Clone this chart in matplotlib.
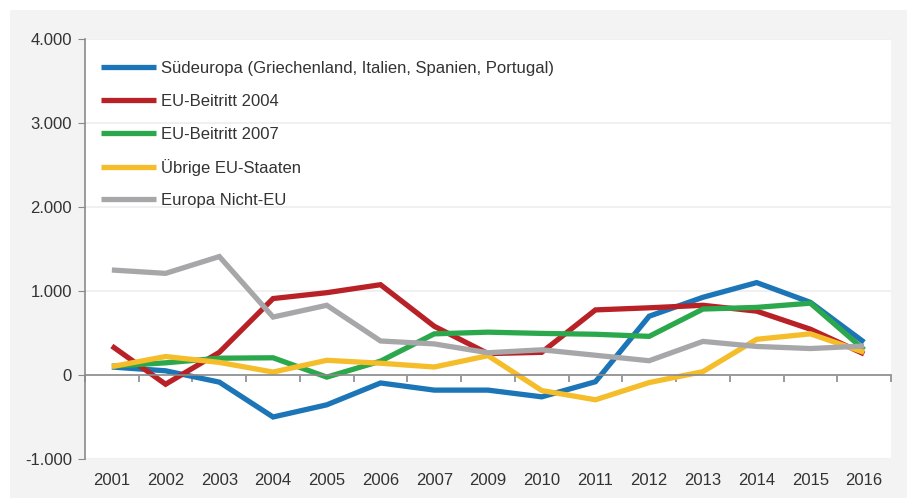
import matplotlib
matplotlib.use("Agg")
import matplotlib.pyplot as plt
from matplotlib.patches import Rectangle
from matplotlib.legend import Legend
from matplotlib.ticker import FuncFormatter, FixedLocator
import numpy as np

years = ["2001", "2002", "2003", "2004", "2005", "2006", "2007", "2009",
         "2010", "2011", "2012", "2013", "2014", "2015", "2016"]

suedeuropa = [95, 50, -85, -500, -355, -95, -180, -180, -260, -80, 700, 925, 1100, 865, 390]
eu2004 = [345, -110, 270, 910, 980, 1075, 580, 255, 270, 775, 800, 830, 760, 545, 250]
eu2007 = [105, 145, 200, 205, -25, 165, 490, 510, 495, 485, 460, 785, 805, 855, 300]
uebrige = [100, 220, 150, 35, 175, 140, 95, 230, -185, -295, -90, 40, 425, 490, 270]
nicht_eu = [1250, 1210, 1410, 690, 830, 405, 370, 265, 300, 235, 170, 400, 340, 315, 345]

labels = ["Südeuropa (Griechenland, Italien, Spanien, Portugal)",
          "EU-Beitritt 2004", "EU-Beitritt 2007", "Übrige EU-Staaten",
          "Europa Nicht-EU"]
colors = ["#1b75b6", "#b82227", "#2ba84c", "#f6bd2b", "#a7a7aa"]
yticks = [-1000, 0, 1000, 2000, 3000, 4000]

plt.rcParams['font.family'] = ['Liberation Sans', 'DejaVu Sans']
W, H = 907, 498
fig = plt.figure(figsize=(W / 100, H / 100), dpi=100)
fig.patch.set_facecolor("white")
bg = Rectangle((10 / W, 0), 1 - 10 / W, 1 - 10 / H,
               transform=fig.transFigure, facecolor="#f2f3f2",
               edgecolor="none", zorder=-10)
fig.add_artist(bg)

ax_l, ax_r, ax_t, ax_b = 85, 891, 39, 459
ax = fig.add_axes([ax_l / W, 1 - ax_b / H, (ax_r - ax_l) / W, (ax_b - ax_t) / H])
ax.set_zorder(5)
ax.set_facecolor("white")
x = np.arange(len(years))
series = [suedeuropa, eu2004, eu2007, uebrige, nicht_eu]
handles = []
for vals, c, lab in zip(series, colors, labels):
    h, = ax.plot(x, vals, color=c, lw=3.8, label=lab, solid_capstyle="butt",
                 solid_joinstyle="miter")
    handles.append(h)

ax.set_xlim(-0.5, len(years) - 0.5)
ax.set_ylim(-1000, 4000)

for s in ["top", "right"]:
    ax.spines[s].set_visible(False)
ax.spines["left"].set_color("#8a8a8a")
ax.spines["left"].set_linewidth(1.2)
ax.spines["bottom"].set_position(("data", 0))
ax.spines["bottom"].set_color("#8a8a8a")
ax.spines["bottom"].set_linewidth(1.2)

ax.set_yticks(yticks)
ax.yaxis.set_major_formatter(FuncFormatter(lambda v, p: f"{int(v):,}".replace(",", ".")))
ax.tick_params(axis="y", direction="out", length=5, color="#8a8a8a",
               labelsize=12, labelcolor="#333333", pad=4.5)
ax.grid(axis="y", color="#eeeeee", lw=1.2)
ax.set_axisbelow(True)

ax.xaxis.set_major_locator(FixedLocator(np.arange(len(years) + 1) - 0.5))
ax.tick_params(axis="x", which="major", direction="out", length=5,
               color="#8a8a8a", labelbottom=False, width=1.2)

sec = ax.secondary_xaxis(0.0)
sec.set_xticks(x)
sec.set_xticklabels(years)
sec.tick_params(length=0, pad=10, labelsize=12, labelcolor="#333333")
sec.spines["bottom"].set_visible(False)

# legend: one entry per row at an even 33 px spacing
row0, step, lx = 68.5, 33.0, 101
for i, h in enumerate(handles):
    yy = (ax_b - (row0 + step * i)) / (ax_b - ax_t)
    leg = Legend(ax, [h], [h.get_label()], loc="center left",
                 bbox_to_anchor=((lx - ax_l) / (ax_r - ax_l), yy),
                 frameon=False, fontsize=12, handlelength=3.3,
                 handletextpad=0.3, borderpad=0, borderaxespad=0)
    leg.get_texts()[0].set_color("#333333")
    ax.add_artist(leg)

fig.savefig("out.png", dpi=100, facecolor=fig.get_facecolor())
